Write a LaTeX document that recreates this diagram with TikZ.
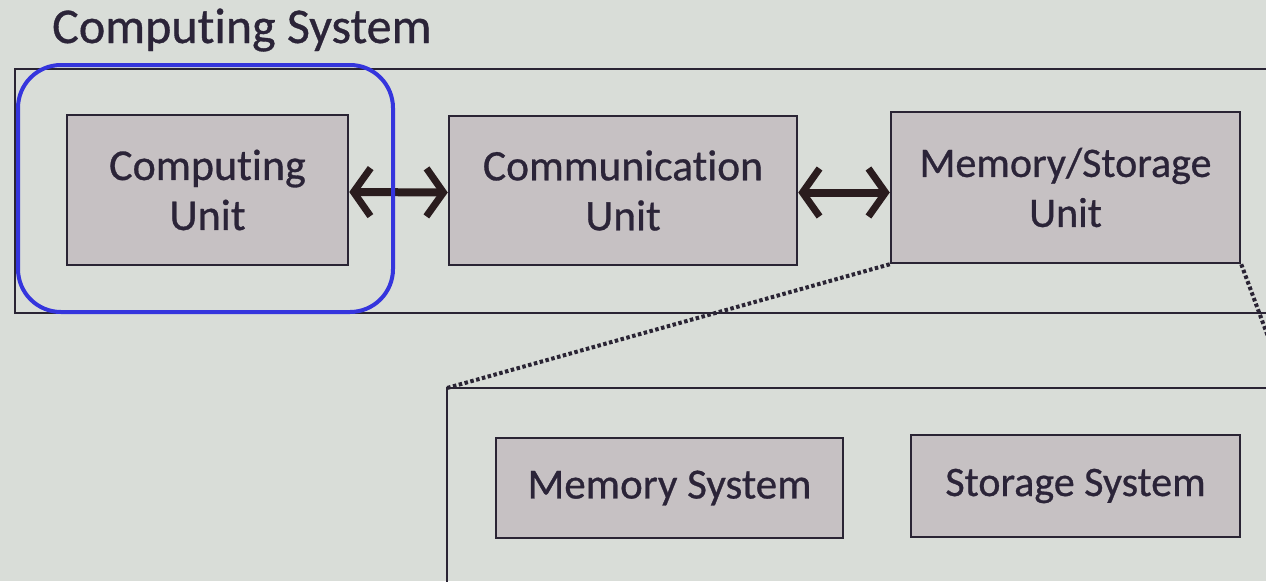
\documentclass[tikz,border=0pt]{standalone}
\usepackage{fontspec}
\setmainfont{Carlito}[Ligatures=NoCommon, FakeBold=0.7]
\usetikzlibrary{arrows.meta}
\definecolor{bg}{HTML}{D9DDD8}
\definecolor{boxfill}{HTML}{C6C1C3}
\definecolor{edge}{HTML}{2A2434}
\definecolor{txt}{HTML}{2B2438}
\definecolor{hl}{HTML}{3535DD}
\definecolor{arr}{HTML}{2A1C1E}
\tikzset{
  unitbox/.style={draw=edge, line width=2.5pt, fill=boxfill, text=txt, align=center,
    inner sep=0pt},
  fs/.style={font=\fontsize{#1}{50}\selectfont\addfontfeature{FakeBold=0.7}},
  frame/.style={draw=edge, line width=2.5pt},
  link/.style={draw=arr, line width=8pt,
    {Straight Barb[length=17pt, width=48pt, line width=7pt]}-{Straight Barb[length=17pt, width=48pt, line width=7pt]}},
  zoomline/.style={draw=edge, line width=4pt, dash pattern=on 3.5pt off 2.5pt},
}
\begin{document}
\begin{tikzpicture}[x=1pt,y=-1pt]
\useasboundingbox (0,0) rectangle (1266,581);
\fill[bg] (0,0) rectangle (1266,581);
\begin{scope}
\clip (0,0) rectangle (1266,581);
% title
\node[anchor=base west, inner sep=0pt, text=txt, fs=50] (title) at (52,43) {Computing System};
% outer frame of the computing system
\draw[frame] (15,69) rectangle (1300,313);
% lower expanded frame
\draw[frame] (447,388) rectangle (1300,640);
\coordinate (lowNW) at (447,388);
\coordinate (lowNE) at (1287,388);
% units
\node[unitbox, fs=44, minimum width=281pt, minimum height=150pt] (cu) at (207.5,190) {Computing\\Unit};
\node[unitbox, fs=43.5, minimum width=348pt, minimum height=149pt] (comm) at (623,190.5) {Communication\\Unit};
\node[unitbox, fs=42, minimum width=349pt, minimum height=151pt] (msu) at (1065.5,187.5) {Memory/Storage\\Unit};
\node[unitbox, fs=43, minimum width=347pt, minimum height=100pt] (mem) at (669.5,488) {Memory System};
\node[unitbox, fs=42, minimum width=329pt, minimum height=102pt] (stor) at (1075.5,486) {Storage System};
% arrows
\coordinate (a1) at ([yshift=-2pt]cu.east);
\coordinate (b1) at ([yshift=-2pt]comm.west);
\coordinate (a2) at ([yshift=-2pt]comm.east);
\coordinate (b2) at (msu.west |- a2);
\draw[link] (a1) -- (b1);
\draw[link] (a2) -- (b2);
% dotted zoom lines
\draw[zoomline] (msu.south west) -- (lowNW);
\draw[zoomline] (msu.south east) -- (lowNE);
% highlight
\draw[hl, line width=4pt, rounded corners=43pt] (18,65) rectangle (393,312);
\end{scope}
\end{tikzpicture}
\end{document}
